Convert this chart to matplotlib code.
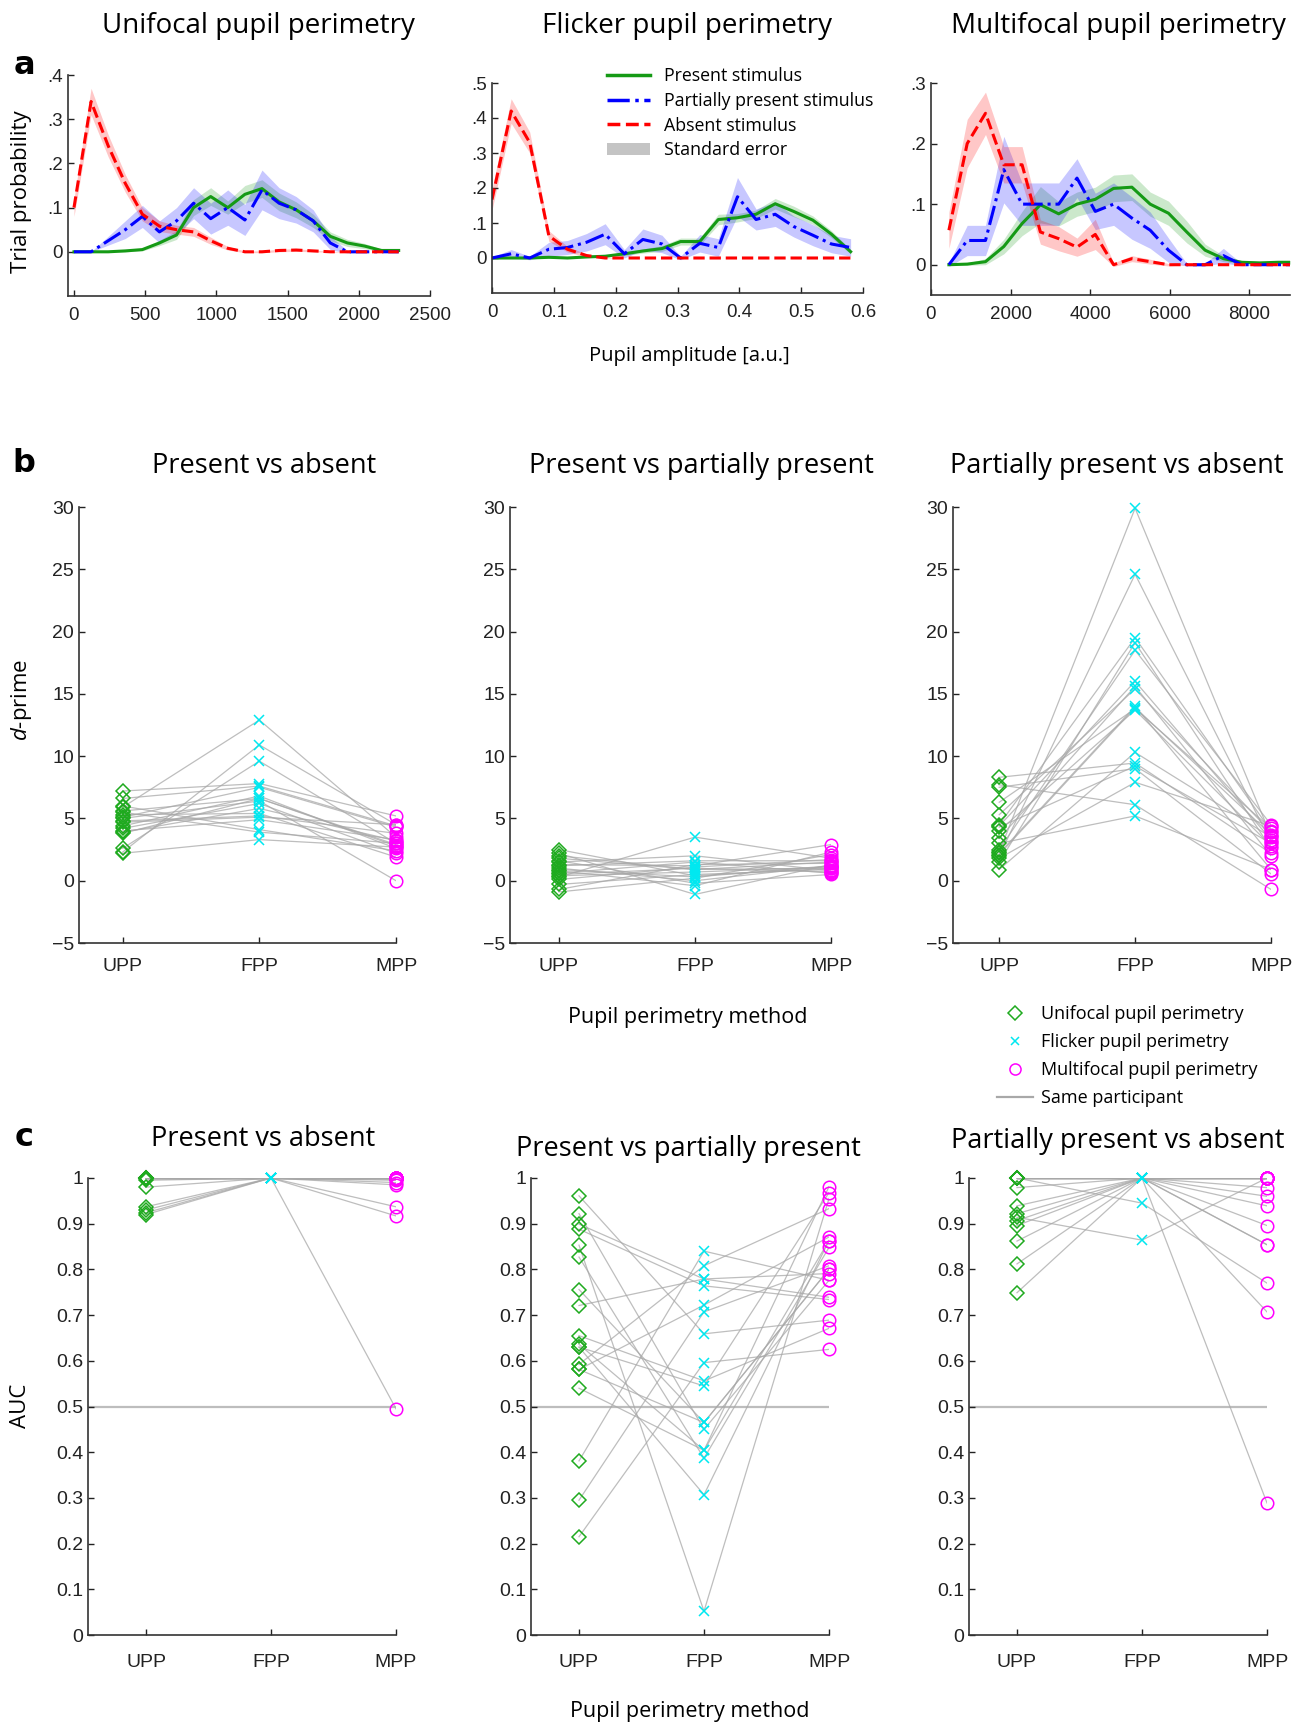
import numpy as np
import matplotlib.pyplot as plt
from matplotlib.lines import Line2D
from matplotlib.patches import Patch

plt.rcParams['font.family'] = ['Liberation Sans', 'DejaVu Sans']
plt.rcParams['mathtext.fontset'] = 'custom'
plt.rcParams['mathtext.it'] = 'Open Sans:italic'
plt.rcParams['mathtext.rm'] = 'Open Sans'
TITLE_FONT = ['Open Sans', 'DejaVu Sans']

# ---------------- panel a: trial probability histograms ----------------
x_uni = [0, 120, 240, 360, 480, 600, 720, 840, 960, 1080,
         1200, 1320, 1440, 1560, 1680, 1800, 1920, 2040, 2160, 2280]
uni_present = [0, 0, 0, 0.002, 0.005, 0.02, 0.038, 0.1, 0.125, 0.1,
               0.13, 0.143, 0.113, 0.095, 0.07, 0.035, 0.02, 0.013, 0.003, 0.003]
uni_partial = [0, 0, 0.025, 0.05, 0.08, 0.045, 0.07, 0.11, 0.075, 0.1,
               0.072, 0.14, 0.11, 0.095, 0.07, 0.02, 0, 0, 0, 0]
uni_absent = [0.1, 0.34, 0.24, 0.155, 0.085, 0.058, 0.05, 0.045, 0.025, 0.008,
              0, 0, 0.003, 0.004, 0.002, 0, 0, 0, 0, 0]
uni_present_se = [0, 0, 0, 0.002, 0.003, 0.006, 0.01, 0.018, 0.02, 0.015,
                  0.02, 0.02, 0.02, 0.018, 0.015, 0.01, 0.008, 0.006, 0.003, 0.003]
uni_partial_se = [0, 0, 0.01, 0.02, 0.025, 0.025, 0.03, 0.035, 0.035, 0.04,
                  0.035, 0.045, 0.035, 0.03, 0.025, 0.015, 0.003, 0, 0, 0]
uni_absent_se = [0.02, 0.03, 0.025, 0.02, 0.015, 0.012, 0.01, 0.01, 0.008, 0.004,
                 0.002, 0.002, 0.003, 0.003, 0.002, 0.001, 0, 0, 0, 0]

x_fli = [0, 0.031, 0.061, 0.092, 0.122, 0.153, 0.183, 0.214, 0.244, 0.275,
         0.305, 0.336, 0.366, 0.397, 0.427, 0.458, 0.488, 0.519, 0.549, 0.58]
fli_present = [0, 0, 0, 0.002, 0, 0.003, 0.005, 0.012, 0.02, 0.027,
               0.047, 0.047, 0.11, 0.115, 0.125, 0.155, 0.133, 0.108, 0.068, 0.018]
fli_partial = [0, 0.012, 0, 0.025, 0.03, 0.045, 0.068, 0.012, 0.053, 0.04,
               0, 0.042, 0.03, 0.175, 0.11, 0.125, 0.09, 0.065, 0.04, 0.03]
fli_absent = [0.167, 0.42, 0.33, 0.063, 0.025, 0.007, 0, 0, 0, 0,
              0, 0, 0, 0, 0, 0, 0, 0, 0, 0]
fli_present_se = [0, 0, 0, 0.002, 0.001, 0.002, 0.003, 0.005, 0.006, 0.008,
                  0.01, 0.01, 0.015, 0.012, 0.012, 0.015, 0.015, 0.012, 0.01, 0.006]
fli_partial_se = [0.003, 0.012, 0.005, 0.02, 0.02, 0.025, 0.03, 0.012, 0.03, 0.025,
                  0.005, 0.025, 0.025, 0.055, 0.03, 0.035, 0.03, 0.03, 0.025, 0.025]
fli_absent_se = [0.03, 0.035, 0.03, 0.015, 0.008, 0.004, 0.001, 0, 0, 0,
                 0, 0, 0, 0, 0, 0, 0, 0, 0, 0]

x_mul = [450, 910, 1370, 1830, 2290, 2750, 3210, 3670, 4130, 4590,
         5050, 5510, 5970, 6430, 6890, 7350, 7810, 8270, 8730, 9190]
mul_present = [0, 0.001, 0.005, 0.03, 0.068, 0.099, 0.084, 0.1, 0.108, 0.126,
               0.128, 0.1, 0.085, 0.054, 0.024, 0.01, 0.004, 0.003, 0.004, 0.004]
mul_partial = [0, 0.04, 0.04, 0.157, 0.1, 0.1, 0.1, 0.143, 0.088, 0.1,
               0.077, 0.057, 0.024, 0, 0, 0.015, 0, 0, 0, 0]
mul_absent = [0.057, 0.2, 0.25, 0.165, 0.165, 0.054, 0.043, 0.029, 0.05, 0,
              0.01, 0.005, 0, 0, 0, 0, 0, 0, 0, 0]
mul_present_se = [0, 0.002, 0.005, 0.012, 0.02, 0.03, 0.02, 0.02, 0.02, 0.022,
                  0.022, 0.02, 0.02, 0.018, 0.01, 0.005, 0.003, 0.002, 0.003, 0.003]
mul_partial_se = [0.003, 0.025, 0.025, 0.055, 0.035, 0.035, 0.035, 0.032, 0.03, 0.035,
                  0.035, 0.03, 0.02, 0.002, 0.002, 0.012, 0.002, 0, 0, 0]
mul_absent_se = [0.03, 0.04, 0.035, 0.03, 0.03, 0.02, 0.02, 0.015, 0.025, 0.003,
                 0.005, 0.004, 0.002, 0, 0, 0, 0, 0, 0, 0]

# ---------------- panel b: d-prime per participant (UPP, FPP, MPP) ----------------
methods = ['UPP', 'FPP', 'MPP']
dp_pres_abs = [[5.9, 12.9, 3.5], [2.3, 10.9, 4.5], [2.6, 9.6, 3.0], [7.2, 7.8, 5.2],
               [6.6, 7.6, 4.4], [4.4, 6.8, 2.6], [5.6, 6.6, 2.8], [5.0, 6.4, 0.0],
               [4.2, 6.2, 2.2], [3.9, 5.8, 3.2], [5.3, 5.4, 1.9], [4.7, 5.1, 4.5],
               [4.0, 4.9, 3.3], [6.0, 4.1, 2.4], [5.5, 3.9, 3.0], [2.2, 3.3, 2.7],
               [4.8, 5.2, 3.8], [3.8, 6.6, 2.9], [5.1, 7.5, 4.3]]
dp_pres_part = [[0.3, 3.5, 1.8], [2.5, 0.4, 1.0], [2.2, -1.1, 1.3], [1.8, 0.9, 1.5],
                [1.5, 2.0, 0.8], [1.3, 1.2, 2.9], [1.0, 0.0, 1.2], [0.8, -0.4, 2.3],
                [0.6, 1.5, 0.6], [0.4, 0.7, 1.1], [0.1, 1.1, 1.7], [-0.3, 0.5, 0.9],
                [-0.7, 1.3, 1.4], [-0.9, 0.2, 2.1], [1.6, -0.2, 0.5], [2.0, 0.9, 1.0],
                [1.2, 1.6, 1.6], [0.5, 1.0, 0.7], [0.9, 0.3, 1.2]]
dp_part_abs = [[2.3, 29.9, 3.6], [2.0, 24.6, 3.1], [4.5, 19.5, 4.0], [1.5, 19.1, 2.6],
               [2.5, 18.5, 4.5], [4.4, 16.0, 3.3], [3.4, 15.6, 2.0], [5.3, 15.4, 3.9],
               [2.2, 14.0, 0.9], [4.0, 13.7, 2.8], [6.3, 13.8, 4.2], [0.9, 10.3, 3.5],
               [8.3, 9.45, 2.2], [7.5, 9.0, 0.55], [4.3, 9.2, 3.0], [1.8, 7.9, 4.4],
               [7.7, 6.1, -0.7], [3.0, 5.2, 0.9], [2.1, 13.9, 3.7]]

# ---------------- panel c: AUC per participant ----------------
auc_pres_abs = [[1, 1, 1], [1, 1, 1], [1, 1, 0.995], [1, 1, 0.99], [0.995, 1, 0.985],
                [0.98, 1, 1], [0.937, 1, 0.937], [0.93, 1, 0.917], [0.924, 1, 1],
                [0.92, 1, 0.495], [1, 1, 1], [1, 1, 0.998], [1, 1, 1], [1, 1, 1],
                [1, 1, 1], [1, 1, 1], [1, 1, 1], [1, 1, 1], [1, 1, 1]]
auc_pres_part = [[0.961, 0.659, 0.689], [0.922, 0.45, 0.776], [0.899, 0.779, 0.739],
                 [0.888, 0.764, 0.734], [0.853, 0.052, 0.955], [0.827, 0.387, 0.848],
                 [0.756, 0.465, 0.8], [0.721, 0.779, 0.791], [0.655, 0.556, 0.671],
                 [0.636, 0.404, 0.981], [0.63, 0.545, 0.968], [0.592, 0.808, 0.933],
                 [0.581, 0.722, 0.871], [0.54, 0.404, 0.863], [0.381, 0.84, 0.776],
                 [0.295, 0.707, 0.808], [0.215, 0.596, 0.625], [0.63, 0.307, 0.863],
                 [0.581, 0.465, 0.8]]
auc_part_abs = [[1, 1, 1], [1, 0.945, 0.77], [0.979, 1, 0.979], [0.939, 1, 0.96],
                [0.922, 1, 0.854], [0.914, 0.864, 1.0], [0.907, 1, 0.896],
                [0.896, 1, 0.707], [0.862, 1, 0.939], [0.812, 1, 0.289],
                [0.749, 1, 0.854], [1, 1, 1], [1, 1, 1], [1, 1, 1], [1, 1, 1],
                [1, 1, 1], [1, 1, 1], [1, 1, 1], [1, 1, 1]]

GREEN_L, BLUE_L, RED_L = '#159a15', '#0000ff', '#ff0000'
GREEN_M, CYAN_M, MAG_M = '#1faa1f', '#00e8f0', '#ff00ff'
GRAY = '#a8a8a8'

W, H = 1293, 1722
fig = plt.figure(figsize=(W / 100, H / 100), dpi=100)


def px_axes(left, top, right, bottom):
    return fig.add_axes([left / W, 1 - bottom / H, (right - left) / W, (bottom - top) / H])


def style(ax, size):
    ax.spines['top'].set_visible(False)
    ax.spines['right'].set_visible(False)
    for s in ('left', 'bottom'):
        ax.spines[s].set_color('#333333')
        ax.spines[s].set_linewidth(1.2)
    ax.tick_params(direction='in', length=4, labelsize=size, colors='#222222', width=1)


def ftext(x, y, s, **kw):
    return fig.text(x / W, 1 - y / H, s, ha='center', va='center', **kw)


def hist_panel(ax, x, series, ses):
    cols = [GREEN_L, BLUE_L, RED_L]
    styles = ['-', '-.', '--']
    for y, se, c in zip(series, ses, cols):
        y = np.array(y)
        se = np.array(se)
        ax.fill_between(x, y - se, y + se, color=c, alpha=0.22, lw=0)
    for y, c, ls in zip(series, cols, styles):
        ax.plot(x, y, color=c, ls=ls, lw=2.2)


# panel a axes
a1 = px_axes(68, 75, 430, 296)
hist_panel(a1, x_uni, [uni_present, uni_partial, uni_absent],
           [uni_present_se, uni_partial_se, uni_absent_se])
a1.set_xlim(-42, 2500)
a1.set_ylim(-0.1, 0.4)
a1.set_xticks([0, 500, 1000, 1500, 2000, 2500])
a1.set_yticks([0, 0.1, 0.2, 0.3, 0.4])
a1.set_yticklabels(['0', '.1', '.2', '.3', '.4'])
style(a1, 13.5)

a2 = px_axes(492, 83, 863, 293)
hist_panel(a2, x_fli, [fli_present, fli_partial, fli_absent],
           [fli_present_se, fli_partial_se, fli_absent_se])
a2.set_xlim(0, 0.6)
a2.set_ylim(-0.1, 0.5)
a2.set_xticks([0, 0.1, 0.2, 0.3, 0.4, 0.5, 0.6])
a2.set_xticklabels(['0', '0.1', '0.2', '0.3', '0.4', '0.5', '0.6'])
a2.set_yticks([0, 0.1, 0.2, 0.3, 0.4, 0.5])
a2.set_yticklabels(['0', '.1', '.2', '.3', '.4', '.5'])
style(a2, 13.5)

a3 = px_axes(931, 83, 1290, 295)
hist_panel(a3, x_mul, [mul_present, mul_partial, mul_absent],
           [mul_present_se, mul_partial_se, mul_absent_se])
a3.set_xlim(0, 9025)
a3.set_ylim(-0.05, 0.3)
a3.set_xticks([0, 2000, 4000, 6000, 8000])
a3.set_yticks([0, 0.1, 0.2, 0.3])
a3.set_yticklabels(['0', '.1', '.2', '.3'])
style(a3, 13.5)

for ax in (a1, a2, a3):
    ax.tick_params(axis='x', pad=8)

ftext(258, 26, 'Unifocal pupil perimetry', fontsize=20, family=TITLE_FONT)
ftext(687, 26, 'Flicker pupil perimetry', fontsize=20, family=TITLE_FONT)
ftext(1118, 26, 'Multifocal pupil perimetry', fontsize=20, family=TITLE_FONT)
ftext(22, 192, 'Trial probability', fontsize=16, rotation=90, family=TITLE_FONT)
ftext(689, 356, 'Pupil amplitude [a.u.]', fontsize=14.5, family=TITLE_FONT)

leg_a = [Line2D([], [], color=GREEN_L, lw=2.5, ls='-'),
         Line2D([], [], color=BLUE_L, lw=2.5, ls='-.'),
         Line2D([], [], color=RED_L, lw=2.5, ls='--'),
         Patch(facecolor='#c4c4c4', edgecolor='none')]
fig.legend(leg_a, ['Present stimulus', 'Partially present stimulus', 'Absent stimulus',
                   'Standard error'],
           loc='upper left', bbox_to_anchor=(600 / W, 1 - 60 / H), frameon=False,
           prop={'family': TITLE_FONT, 'size': 12.8}, handlelength=2.4,
           labelspacing=0.38, handletextpad=0.8, borderaxespad=0)


# panels b and c
def pair_panel(ax, data, xleft, ylim, yticks, ms_scale=1.0):
    for row in data:
        ax.plot([1, 2, 3], row, color=GRAY, lw=0.9, alpha=0.75, zorder=1)
    d = np.array(data)
    ax.plot(np.ones(len(d)), d[:, 0], ls='none', marker='D', ms=7.5 * ms_scale, mfc='none',
            mec=GREEN_M, mew=1.1, zorder=3, clip_on=False)
    ax.plot(np.full(len(d), 2), d[:, 1], ls='none', marker='x', ms=7 * ms_scale,
            mec=CYAN_M, mew=1.1, zorder=3, clip_on=False)
    ax.plot(np.full(len(d), 3), d[:, 2], ls='none', marker='o', ms=9 * ms_scale, mfc='none',
            mec=MAG_M, mew=1.1, zorder=3, clip_on=False)
    ax.set_xlim(xleft, 3)
    ax.set_ylim(*ylim)
    ax.set_xticks([1, 2, 3])
    ax.set_xticklabels(methods)
    ax.set_yticks(yticks)
    style(ax, 14)
    ax.tick_params(axis='x', pad=11)


dp_ticks = [-5, 0, 5, 10, 15, 20, 25, 30]
b1 = px_axes(79, 507, 396, 943)
pair_panel(b1, dp_pres_abs, 0.68, (-5, 30), dp_ticks)
b2 = px_axes(510, 507, 831, 943)
pair_panel(b2, dp_pres_part, 0.64, (-5, 30), dp_ticks)
b3 = px_axes(953, 507, 1271, 943)
pair_panel(b3, dp_part_abs, 0.66, (-5, 30), dp_ticks)

ftext(264, 466, 'Present vs absent', fontsize=19.5, family=TITLE_FONT)
ftext(701, 466, 'Present vs partially present', fontsize=19.5, family=TITLE_FONT)
ftext(1117, 466, 'Partially present vs absent', fontsize=19.5, family=TITLE_FONT)
ftext(22, 700, '$d$-prime', fontsize=16, rotation=90, family=TITLE_FONT)
ftext(688, 1018, 'Pupil perimetry method', fontsize=15.5, family=TITLE_FONT)

leg_b = [Line2D([], [], ls='none', marker='D', ms=7, mfc='none', mec=GREEN_M, mew=1.1),
         Line2D([], [], ls='none', marker='x', ms=6, mec=CYAN_M, mew=1.1),
         Line2D([], [], ls='none', marker='o', ms=8, mfc='none', mec=MAG_M, mew=1.1),
         Line2D([], [], color=GRAY, lw=1.6)]
fig.legend(leg_b, ['Unifocal pupil perimetry', 'Flicker pupil perimetry',
                   'Multifocal pupil perimetry', 'Same participant'],
           loc='upper left', bbox_to_anchor=(990 / W, 1 - 998 / H), frameon=False,
           prop={'family': TITLE_FONT, 'size': 13}, handlelength=2.0,
           labelspacing=0.55, handletextpad=0.45, borderaxespad=0)

auc_ticks = [0, 0.1, 0.2, 0.3, 0.4, 0.5, 0.6, 0.7, 0.8, 0.9, 1]
auc_labels = ['0', '0.1', '0.2', '0.3', '0.4', '0.5', '0.6', '0.7', '0.8', '0.9', '1']
for (l, r, xl, data) in [(88, 396, 0.536, auc_pres_abs),
                         (531, 829, 0.616, auc_pres_part),
                         (969, 1267, 0.616, auc_part_abs)]:
    ax = px_axes(l, 1178, r, 1635)
    ax.plot([xl, 3], [0.5, 0.5], color='#bdbdbd', lw=1.6, zorder=0)
    pair_panel(ax, data, xl, (0, 1), auc_ticks)
    ax.set_yticklabels(auc_labels)
    ax.tick_params(axis='x', pad=14)

ftext(263, 1139, 'Present vs absent', fontsize=19.5, family=TITLE_FONT)
ftext(688, 1149, 'Present vs partially present', fontsize=19.5, family=TITLE_FONT)
ftext(1118, 1141, 'Partially present vs absent', fontsize=19.5, family=TITLE_FONT)
ftext(20, 1406, 'AUC', fontsize=16, rotation=90, family=TITLE_FONT)
ftext(690, 1711, 'Pupil perimetry method', fontsize=15.5, family=TITLE_FONT)

ftext(24, 66, 'a', fontsize=23, fontweight='bold', family=['DejaVu Sans'])
ftext(24, 464, 'b', fontsize=23, fontweight='bold', family=['DejaVu Sans'])
ftext(24, 1138, 'c', fontsize=23, fontweight='bold', family=['DejaVu Sans'])

fig.savefig('out.png', dpi=100)
